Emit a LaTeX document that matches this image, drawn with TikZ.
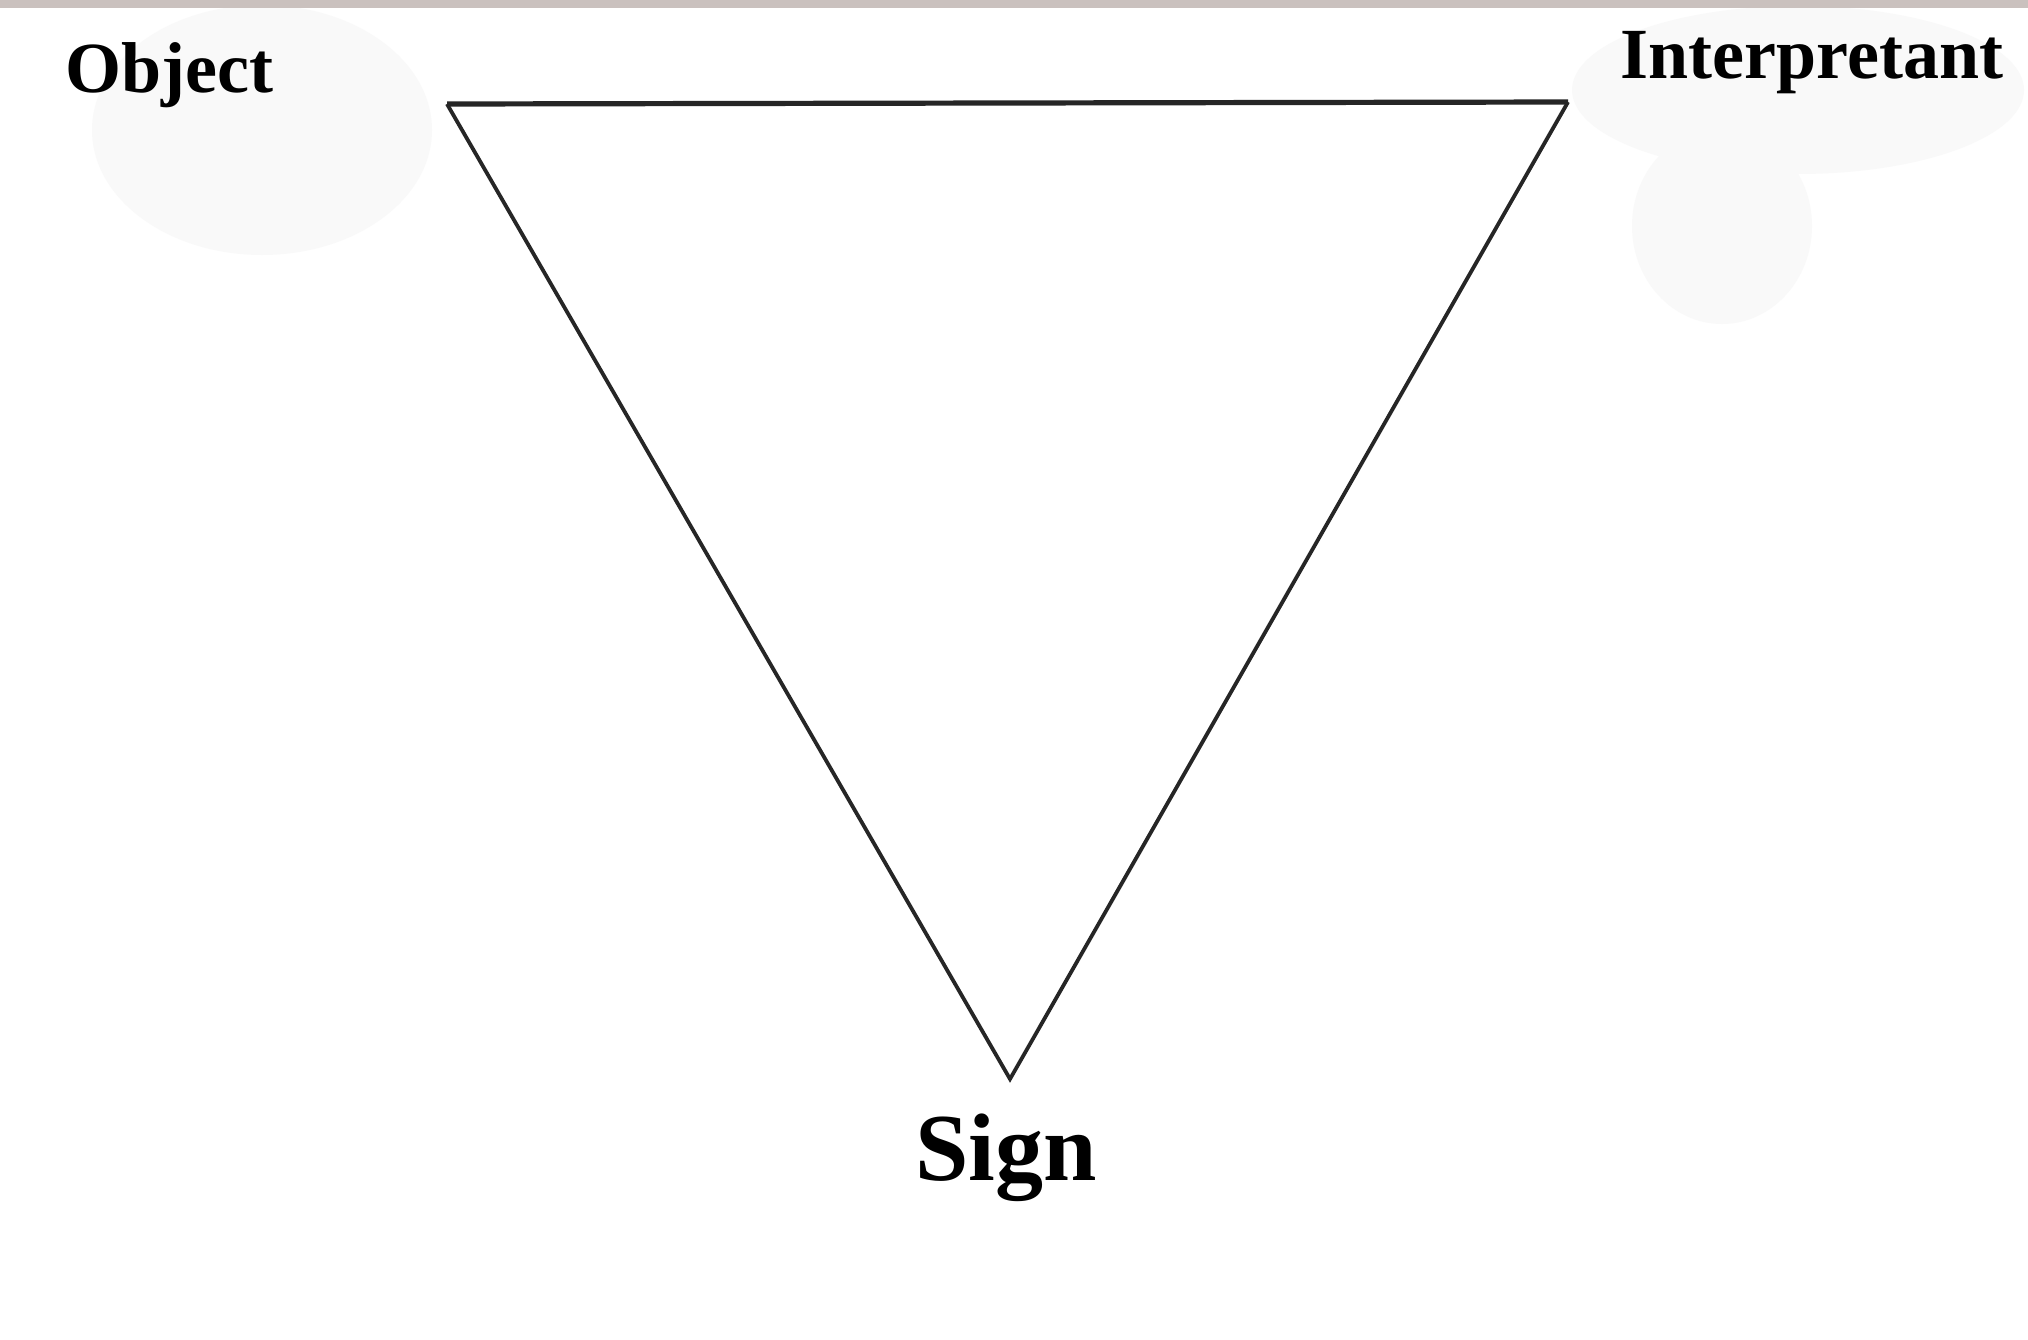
\documentclass[tikz,border=0pt]{standalone}
\usepackage{fontspec}
\setmainfont{Liberation Serif}
\tikzset{
  lbl/.style={inner sep=0pt, anchor=base west, font=\bfseries},
  edge/.style={draw=black!85, line width=1.9pt, line join=miter},
  blob/.style={fill=black!2.5},
}
\definecolor{topbar}{RGB}{202,193,190}
\begin{document}
\begin{tikzpicture}[x=0.5pt,y=-0.5pt]
\useasboundingbox (0,0) rectangle (2028,1339);
\fill[white] (0,0) rectangle (2028,1339);
% faint background blobs
\fill[blob] (262,130) ellipse (170 and 125);
\fill[blob] (1798,90) ellipse (226 and 84);
\fill[blob] (1722,226) ellipse (90 and 98);
\fill[topbar] (0,0) rectangle (2028,8);
% vertices
\coordinate (O) at (447,104);
\coordinate (I) at (1568,102);
\coordinate (S) at (1010,1079);
\draw[edge] (O) -- (S) -- (I);
\draw[draw=black!85, line width=2.6pt] (O) -- (I);
% labels
\node[lbl, font=\bfseries\fontsize{36pt}{40pt}\selectfont] (obj) at (65,92) {Object};
\node[lbl, font=\bfseries\fontsize{36pt}{40pt}\selectfont] (int) at (1620,78) {Interpretant};
\node[lbl, font=\bfseries\fontsize{48pt}{54pt}\selectfont] (sign) at (915,1180) {Sign};
\end{tikzpicture}
\end{document}
